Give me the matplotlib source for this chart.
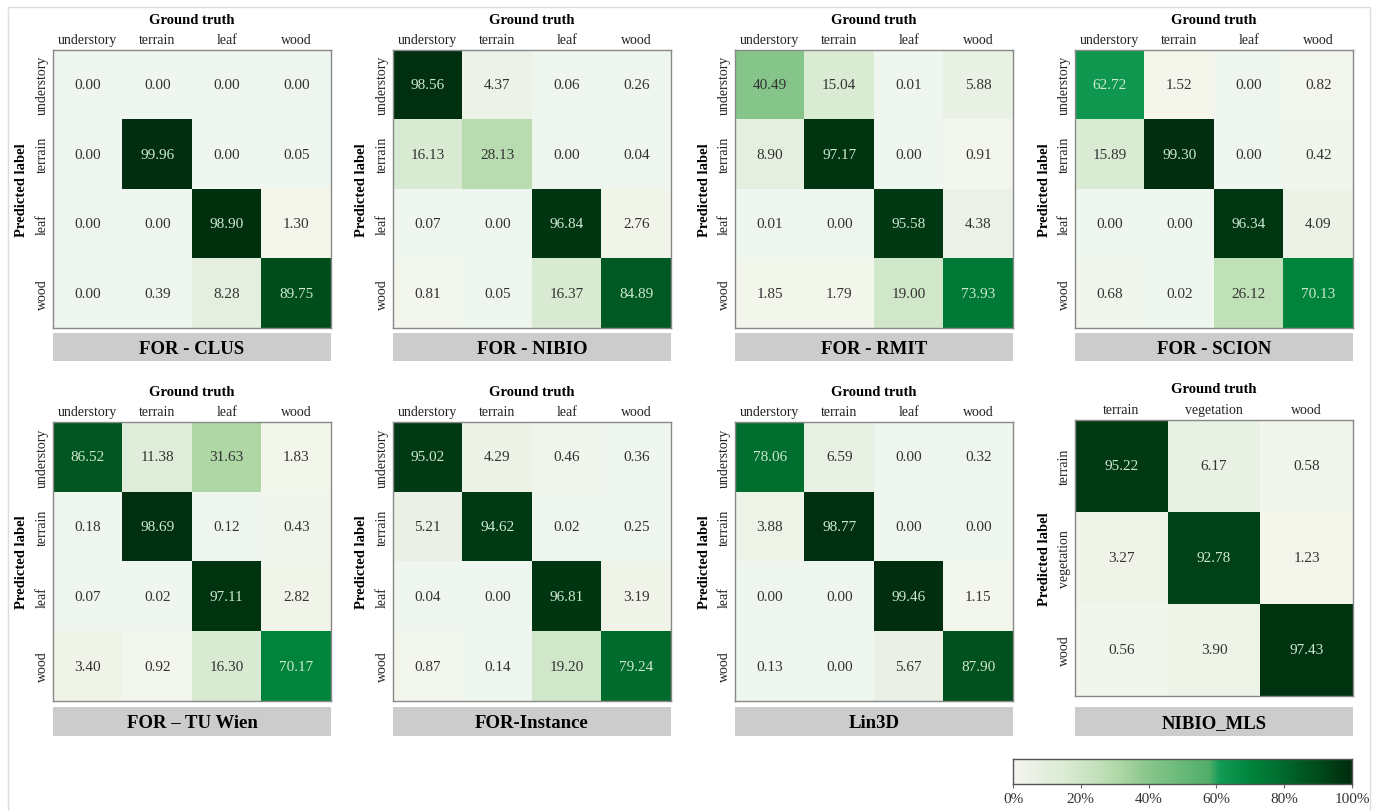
import numpy as np
import matplotlib
matplotlib.use("Agg")
import matplotlib.pyplot as plt
from matplotlib.colors import LinearSegmentedColormap
from matplotlib.patches import Rectangle

plt.rcParams['font.family'] = ['Liberation Serif', 'DejaVu Serif']

# ---------------- data ----------------
classes4 = ["understory", "terrain", "leaf", "wood"]
classes3 = ["terrain", "vegetation", "wood"]

for_clus = [[0.00, 0.00, 0.00, 0.00],
            [0.00, 99.96, 0.00, 0.05],
            [0.00, 0.00, 98.90, 1.30],
            [0.00, 0.39, 8.28, 89.75]]
for_nibio = [[98.56, 4.37, 0.06, 0.26],
             [16.13, 28.13, 0.00, 0.04],
             [0.07, 0.00, 96.84, 2.76],
             [0.81, 0.05, 16.37, 84.89]]
for_rmit = [[40.49, 15.04, 0.01, 5.88],
            [8.90, 97.17, 0.00, 0.91],
            [0.01, 0.00, 95.58, 4.38],
            [1.85, 1.79, 19.00, 73.93]]
for_scion = [[62.72, 1.52, 0.00, 0.82],
             [15.89, 99.30, 0.00, 0.42],
             [0.00, 0.00, 96.34, 4.09],
             [0.68, 0.02, 26.12, 70.13]]
for_tuwien = [[86.52, 11.38, 31.63, 1.83],
              [0.18, 98.69, 0.12, 0.43],
              [0.07, 0.02, 97.11, 2.82],
              [3.40, 0.92, 16.30, 70.17]]
for_instance = [[95.02, 4.29, 0.46, 0.36],
                [5.21, 94.62, 0.02, 0.25],
                [0.04, 0.00, 96.81, 3.19],
                [0.87, 0.14, 19.20, 79.24]]
lin3d = [[78.06, 6.59, 0.00, 0.32],
         [3.88, 98.77, 0.00, 0.00],
         [0.00, 0.00, 99.46, 1.15],
         [0.13, 0.00, 5.67, 87.90]]
nibio_mls = [[95.22, 6.17, 0.58],
             [3.27, 92.78, 1.23],
             [0.56, 3.90, 97.43]]

titles = ["FOR - CLUS", "FOR - NIBIO", "FOR - RMIT", "FOR - SCION",
          "FOR \u2013 TU Wien", "FOR-Instance", "Lin3D", "NIBIO_MLS"]
matrices = [for_clus, for_nibio, for_rmit, for_scion,
            for_tuwien, for_instance, lin3d, nibio_mls]
class_sets = [classes4] * 7 + [classes3]
cbar_ticks = [0, 20, 40, 60, 80, 100]
cbar_ticklabels = ["0%", "20%", "40%", "60%", "80%", "100%"]

# ---------------- style ----------------
W, H = 1378, 812
fig = plt.figure(figsize=(W / 100, H / 100), dpi=100)
fig.patch.set_facecolor("white")

cmap = LinearSegmentedColormap.from_list("cm", [
    (0.00, "#eff6ef"),
    (0.01, "#f5f7ec"),
    (0.05, "#ebf1e6"),
    (0.16, "#d9ebd2"),
    (0.26, "#c0e0b8"),
    (0.32, "#acd6a3"),
    (0.40, "#88c68b"),
    (0.58, "#50ae69"),
    (0.61, "#139c55"),
    (0.70, "#00853d"),
    (0.78, "#006f30"),
    (0.85, "#005a24"),
    (0.90, "#004d1c"),
    (0.95, "#003a14"),
    (1.00, "#002e0e"),
])


def px_axes(x0, y0, x1, y1):
    return fig.add_axes([x0 / W, 1 - y1 / H, (x1 - x0) / W, (y1 - y0) / H])


# outer frame
fig.patches.append(Rectangle((8 / W, -0.05), (1370 - 8) / W, 1 - 8 / H + 0.05,
                             transform=fig.transFigure, fill=False,
                             edgecolor="#dddddd", linewidth=1.0))

col_x = [(53, 331), (393, 671), (735, 1013), (1075, 1353)]
row_y = [(51, 329, 334, 362), (423, 702, 708, 737)]

for idx, (mat, title, cls) in enumerate(zip(matrices, titles, class_sets)):
    r, c = divmod(idx, 4)
    x0, x1 = col_x[c]
    y0, y1, ty0, ty1 = row_y[r]
    if idx == 7:
        y0, y1 = 421, 697
    ax = px_axes(x0, y0, x1, y1)
    data = np.array(mat)
    n = data.shape[0]
    ax.imshow(data, cmap=cmap, vmin=0, vmax=100, aspect="auto",
              interpolation="nearest")
    for i in range(n):
        for j in range(n):
            v = data[i, j]
            col = "#cfe9cf" if v > 55 else "#333333"
            ax.text(j, i, f"{v:.2f}", ha="center", va="center",
                    fontsize=11, color=col)
    ax.xaxis.tick_top()
    ax.set_xticks(range(n))
    ax.set_xticklabels(cls, fontsize=10, color="#222222")
    ax.set_yticks(range(n))
    ax.set_yticklabels(cls, fontsize=10, rotation=90, va="center",
                       color="#222222")
    ax.tick_params(length=0, pad=3)
    for s in ax.spines.values():
        s.set_color("#888888")
        s.set_linewidth(1.0)
    # axis titles
    fig.text((x0 + x1) / 2 / W, 1 - (y0 - 31) / H, "Ground truth",
             ha="center", va="center", fontsize=10.5, fontweight="bold")
    fig.text((x0 - 31) / W, 1 - ((y0 + y1) / 2) / H, "Predicted label",
             ha="center", va="center", rotation=90, fontsize=10.5,
             fontweight="bold")
    # title box
    tax = px_axes(x0, ty0, x1, ty1)
    tax.set_facecolor("#cccccc")
    tax.set_xticks([])
    tax.set_yticks([])
    for s in tax.spines.values():
        s.set_visible(False)
    tax.text(0.5, 0.45, title, ha="center", va="center", fontsize=13.5,
             fontweight="bold", transform=tax.transAxes)

# colorbar
cax = px_axes(1013, 760, 1352, 785)
grad = np.linspace(0, 100, 512).reshape(1, -1)
cax.imshow(grad, cmap=cmap, vmin=0, vmax=100, aspect="auto",
           extent=[0, 100, 0, 1])
cax.set_yticks([])
cax.set_xticks(cbar_ticks)
cax.set_xticklabels(cbar_ticklabels, fontsize=11, color="#333333")
cax.tick_params(axis="x", length=3, width=0.8, color="#666666", pad=3)
for s in cax.spines.values():
    s.set_color("#555555")
    s.set_linewidth(1.0)

fig.savefig("out.png", dpi=100)
